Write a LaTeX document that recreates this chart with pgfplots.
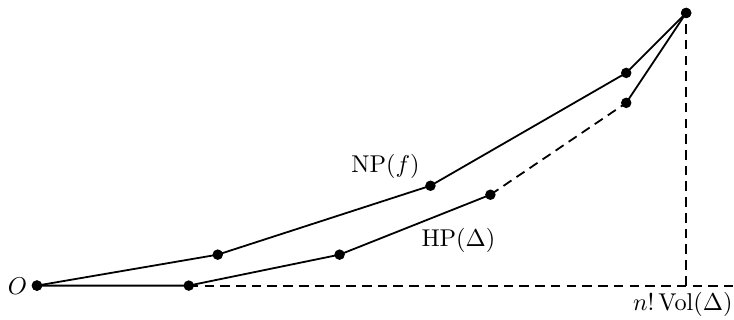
\documentclass[border=0pt]{standalone}
\usepackage{pgfplots}
\pgfplotsset{compat=1.18}
\begin{document}
\begin{tikzpicture}
\begin{axis}[
  width=326pt, height=142.1pt, scale only axis,
  xmin=0, xmax=734, ymin=-34, ymax=286,
  hide axis, clip=false,
]
\path (rel axis cs:0,0) rectangle (rel axis cs:1,1);
% dashed axes
\addplot[black, line width=0.8pt, dash pattern=on 4.3pt off 2.7pt] coordinates {(189,0) (734,0)};
\addplot[black, line width=0.8pt, dash pattern=on 4.3pt off 2.7pt] coordinates {(687,0) (687,273)};
% NP(f)
\addplot[black, line width=0.8pt, mark=*, mark size=1.9pt] coordinates {(37,0) (218,31) (431,100) (627,213) (687,273)};
% HP(Delta)
\addplot[black, line width=0.8pt, mark=*, mark size=1.9pt] coordinates {(37,0) (189,0) (340,31) (491,91)};
\addplot[black, line width=0.8pt, dash pattern=on 4.3pt off 2.7pt] coordinates {(491,91) (627,183)};
\addplot[black, line width=0.8pt, mark=*, mark size=1.9pt] coordinates {(627,183) (687,273)};
\node[anchor=east, inner sep=1pt, scale=1.08] at (axis cs:30,-1) {$O$};
\node[scale=1.08] at (axis cs:386,119) {$\mathrm{NP}(f)$};
\node[scale=1.08] at (axis cs:459,45) {$\mathrm{HP}(\Delta)$};
\node[anchor=east, inner sep=0pt, scale=1.08] at (axis cs:734,-19) {$n!\,\mathrm{Vol}(\Delta)$};
\end{axis}
\end{tikzpicture}
\end{document}
